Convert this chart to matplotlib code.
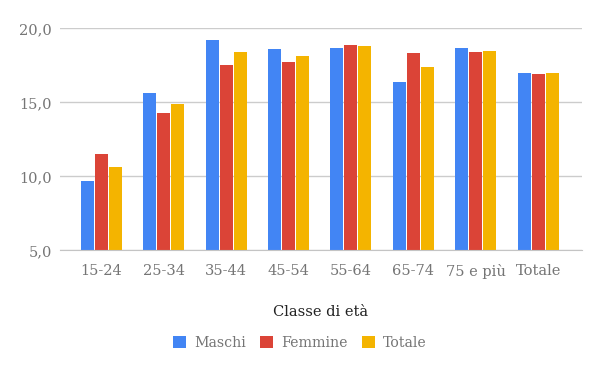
import numpy as np
import matplotlib
matplotlib.use("Agg")
import matplotlib.pyplot as plt
from matplotlib.patches import Patch

plt.rcParams["font.family"] = ["DejaVu Serif"]

categories = ["15-24", "25-34", "35-44", "45-54", "55-64", "65-74", "75 e più", "Totale"]
maschi = [9.7, 15.6, 19.2, 18.6, 18.7, 16.4, 18.7, 17.0]
femmine = [11.5, 14.3, 17.5, 17.7, 18.9, 18.3, 18.4, 16.9]
totale = [10.6, 14.9, 18.4, 18.1, 18.8, 17.4, 18.5, 17.0]
series = [("Maschi", maschi, "#4285F4"),
          ("Femmine", femmine, "#DB4437"),
          ("Totale", totale, "#F4B400")]
yticks = [5, 10, 15, 20]

fig = plt.figure(figsize=(6.0, 3.71), dpi=100)
ax = fig.add_axes([0.1, 0.3253, 0.87, 0.5984])

x = np.arange(len(categories))
step = 0.224
width = 0.208
for i, (name, vals, col) in enumerate(series):
    ax.bar(x + (i - 1) * step, np.array(vals) - 5, width=width, bottom=5,
           color=col, zorder=3, label=name)

ax.set_ylim(5, 20)
ax.set_xlim(-0.66, 7.7)
ax.set_yticks(yticks)
ax.set_yticklabels([f"{v:.1f}".replace(".", ",") for v in yticks])
ax.set_xticks(x)
ax.set_xticklabels(categories)
ax.grid(axis="y", color="#cccccc", linewidth=1, zorder=0)
for s in ["top", "right", "left"]:
    ax.spines[s].set_visible(False)
ax.spines["bottom"].set_color("#c4c4c4")
ax.spines["bottom"].set_zorder(4)
ax.tick_params(axis="both", length=0, labelsize=10.5, colors="#757575")
ax.tick_params(axis="x", pad=10)
ax.tick_params(axis="y", pad=6)

fig.text(0.535, 0.158, "Classe di età", ha="center", va="center",
         fontsize=10.5, color="#222222")

handles = [Patch(facecolor=c, edgecolor="none", label=n) for n, _, c in series]
fig.legend(handles=handles, loc="center", bbox_to_anchor=(0.5, 0.075), ncol=3,
           frameon=False, fontsize=10.2, labelcolor="#757575",
           handlelength=0.9, handleheight=0.9, handletextpad=0.6,
           columnspacing=1.0)

fig.savefig("out.png", dpi=100)
